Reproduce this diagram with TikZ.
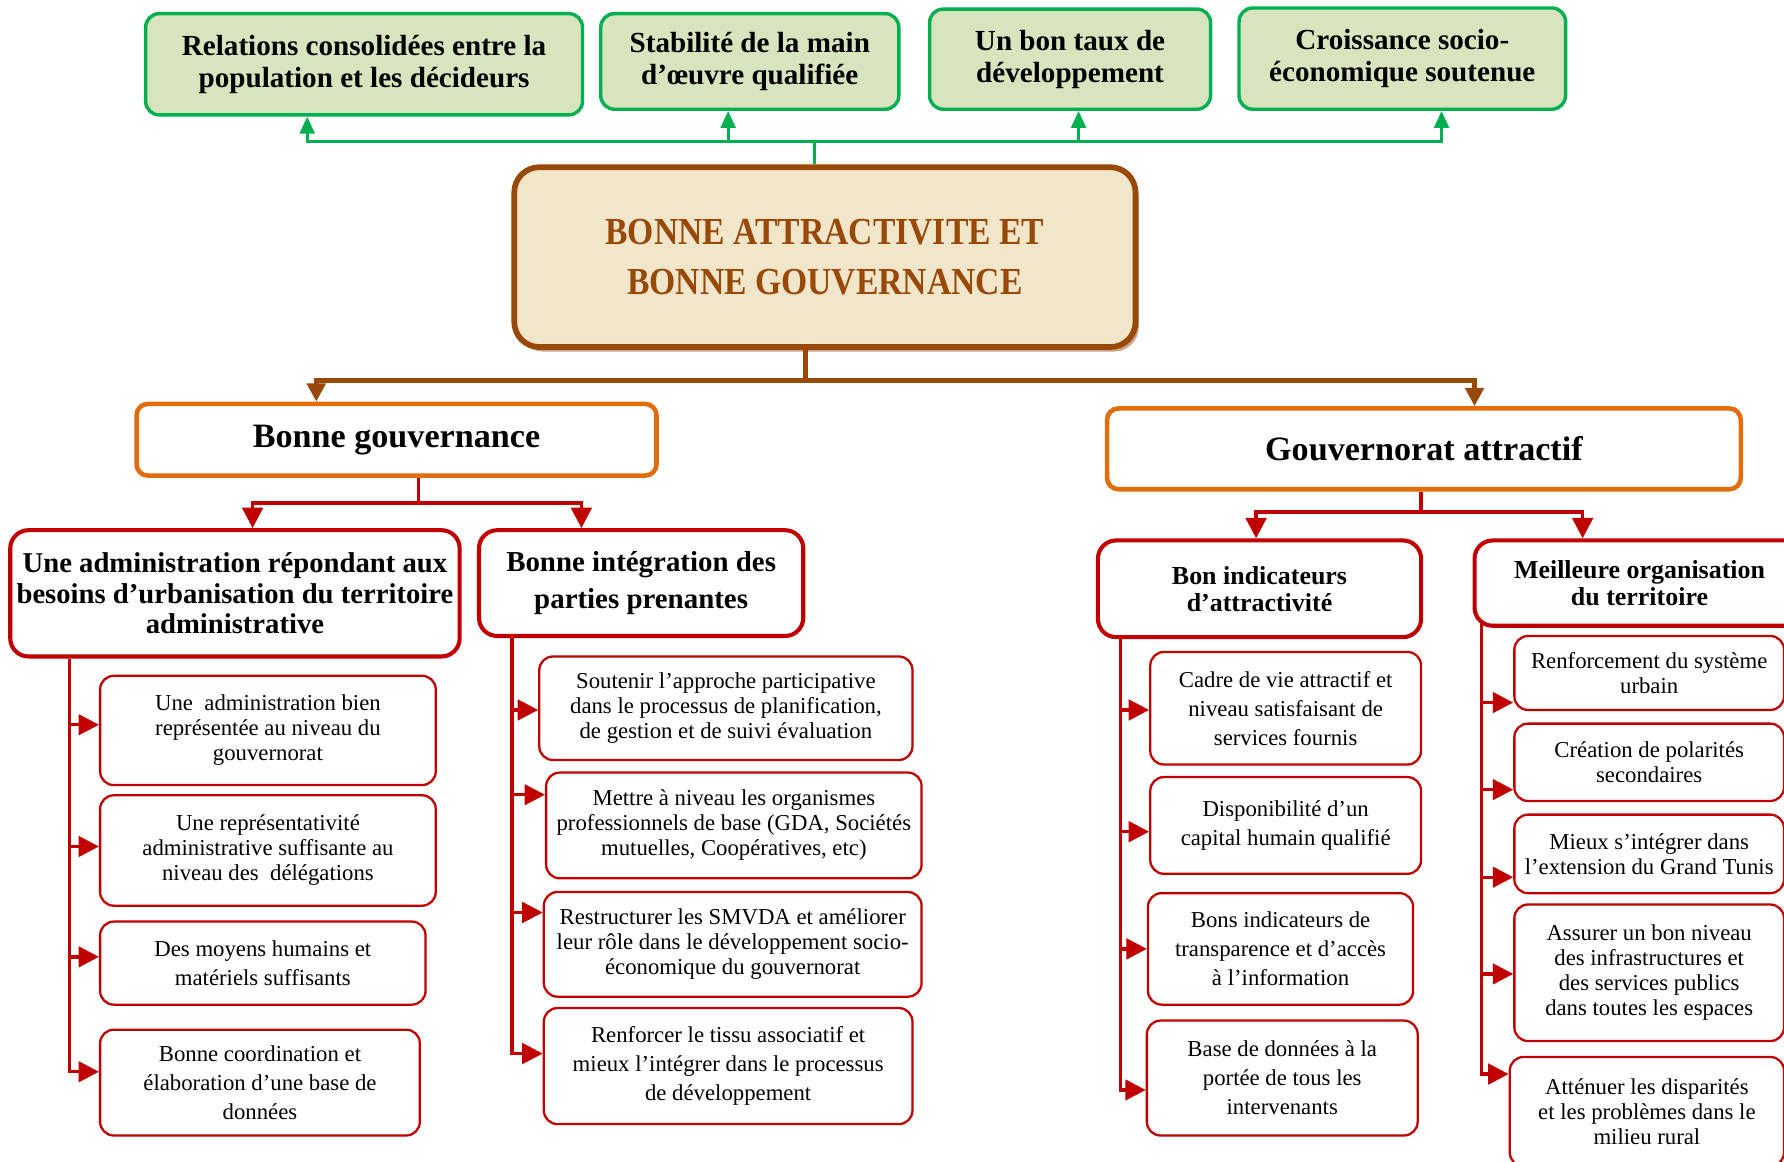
\documentclass[tikz,border=0pt]{standalone}
\usepackage{fontspec}
\setmainfont{Liberation Serif}
\newfontfamily\corefont[FakeStretch=0.88]{Liberation Serif}
\usepackage{tikz}
\usetikzlibrary{arrows.meta,shadows}
\definecolor{gvGreen}{HTML}{00B050}
\definecolor{gvGreenFill}{HTML}{D7E4BD}
\definecolor{gvBrown}{HTML}{984807}
\definecolor{gvParch}{HTML}{F1E5CA}
\definecolor{gvShadow}{HTML}{C9A383}
\definecolor{gvOrange}{HTML}{E36C0A}
\definecolor{gvRed}{HTML}{C00000}
\tikzset{
  gv diagram/.style={line join=miter, inner sep=2pt},
  gv goal/.style={draw=gvGreen, fill=gvGreenFill, line width=1.5pt,
    rounded corners=6pt, align=center, font=\bfseries\fontsize{12.8}{14}\selectfont},
  gv core/.style={draw=gvBrown, fill=gvParch, line width=2.5pt,
    rounded corners=11pt, align=center, text=gvBrown,
    font=\corefont\bfseries\fontsize{16.8}{22}\selectfont,
    drop shadow={shadow xshift=1.5pt, shadow yshift=-2pt, fill=gvShadow, opacity=1}},
  gv axis/.style={draw=gvOrange, fill=white, line width=2pt,
    rounded corners=5pt, font=\bfseries\fontsize{15}{18}\selectfont},
  gv branch/.style={draw=gvRed, fill=white, line width=1.8pt,
    rounded corners=8pt, align=center, font=\bfseries\fontsize{12.6}{13.5}\selectfont},
  gv branch small/.style={gv branch, font=\bfseries\fontsize{11.4}{12}\selectfont},
  gv leaf/.style={draw=gvRed, fill=white, line width=1pt,
    rounded corners=6pt, align=center, font=\fontsize{10}{11}\selectfont},
  gv leaf loose/.style={gv leaf, font=\fontsize{10}{12.75}\selectfont},
  gv goal link/.style={draw=gvGreen, line width=1.3pt},
  gv goal arrow/.style={gv goal link, -{Triangle[length=7.5pt,width=6.5pt]}},
  gv core link/.style={draw=gvBrown, line width=2pt},
  gv core arrow/.style={gv core link, -{Triangle[length=8pt,width=8pt]}},
  gv link/.style={draw=gvRed, line width=1.5pt},
  gv arrow/.style={gv link, -{Triangle[length=9pt,width=9pt]}}
}
\begin{document}
\begin{tikzpicture}[gv diagram,x=0.5pt,y=-0.5pt]
\useasboundingbox (0,0) rectangle (1568,1021);

\node[gv goal, minimum width=192pt, minimum height=44.5pt] (relations) at (320,56.5)
  {Relations consolidées entre la\\population et les décideurs};
\node[gv goal, minimum width=131pt, minimum height=42pt] (stabilite) at (659,54)
  {Stabilité de la main\\d’œuvre qualifiée};
\node[gv goal, minimum width=123.5pt, minimum height=44pt] (taux) at (940.5,52)
  {Un bon taux de\\développement};
\node[gv goal, minimum width=143.5pt, minimum height=44.5pt] (croissance) at (1232.5,51.5)
  {Croissance socio-\\économique soutenue};

\node[gv core, minimum width=273pt, minimum height=79pt] (core) at (725,226)
  {BONNE ATTRACTIVITE ET\\BONNE GOUVERNANCE};

\node[gv axis, minimum width=228.5pt, minimum height=31.5pt] (gouv) at (348.5,386.5) {Bonne gouvernance};
\node[gv axis, minimum width=278.5pt, minimum height=35.5pt] (attr) at (1251.5,394.5) {Gouvernorat attractif};

\node[gv branch, minimum width=197.5pt, minimum height=55.5pt] (admin) at (206.5,521.5)
  {Une administration répondant aux\\besoins d’urbanisation du territoire\\administrative};
\node[gv branch, minimum width=142.5pt, minimum height=46.5pt,
  font=\bfseries\fontsize{12.7}{16}\selectfont] (integ) at (563.5,512.5)
  {Bonne intégration des\\parties prenantes};
\node[gv branch small, minimum width=142pt, minimum height=42.5pt] (indic) at (1107,517.5)
  {Bon indicateurs\\d’attractivité};
\node[gv branch small, minimum width=145pt, minimum height=37.5pt] (organ) at (1441,512.5)
  {Meilleure organisation\\du territoire};

\node[gv leaf, minimum width=147.5pt, minimum height=48pt] (adm1) at (235.5,642)
  {Une\ \ administration bien\\représentée au niveau du\\gouvernorat};
\node[gv leaf, minimum width=147.5pt, minimum height=48.5pt] (adm2) at (235.5,747.5)
  {Une représentativité\\administrative suffisante au\\niveau des\ \ délégations};
\node[gv leaf loose, minimum width=143pt, minimum height=36.5pt] (adm3) at (231,846.5)
  {Des moyens humains et\\matériels suffisants};
\node[gv leaf loose, minimum width=140.5pt, minimum height=46.5pt] (adm4) at (228.5,951.5)
  {Bonne coordination et\\élaboration d’une base de\\données};

\node[gv leaf, minimum width=164pt, minimum height=45.5pt] (int1) at (638,622.5)
  {Soutenir l’approche participative\\dans le processus de planification,\\de gestion et de suivi évaluation};
\node[gv leaf, minimum width=165pt, minimum height=46.5pt] (int2) at (645,725.5)
  {Mettre à niveau les organismes\\professionnels de base (GDA, Sociétés\\mutuelles, Coopératives, etc)};
\node[gv leaf, minimum width=166pt, minimum height=46pt] (int3) at (644,830)
  {Restructurer les SMVDA et améliorer\\leur rôle dans le développement socio-\\économique du gouvernorat};
\node[gv leaf loose, minimum width=162pt, minimum height=51pt] (int4) at (640,937)
  {Renforcer le tissu associatif et\\mieux l’intégrer dans le processus\\de développement};

\node[gv leaf loose, minimum width=119pt, minimum height=49.5pt] (ind1) at (1130,622.5)
  {Cadre de vie attractif et\\niveau satisfaisant de\\services fournis};
\node[gv leaf loose, minimum width=119pt, minimum height=42.5pt] (ind2) at (1130,725.5)
  {Disponibilité d’un\\capital humain qualifié};
\node[gv leaf loose, minimum width=116.5pt, minimum height=49pt] (ind3) at (1125.5,834)
  {Bons indicateurs de\\transparence et d’accès\\à l’information};
\node[gv leaf loose, minimum width=119pt, minimum height=50.5pt] (ind4) at (1127,947.5)
  {Base de données à la\\portée de tous les\\intervenants};

\node[gv leaf, minimum width=118.5pt, minimum height=32.5pt] (org1) at (1449.5,591.5)
  {Renforcement du système\\urbain};
\node[gv leaf, minimum width=118.5pt, minimum height=34pt] (org2) at (1449.5,670)
  {Création de polarités\\secondaires};
\node[gv leaf, minimum width=118.5pt, minimum height=34.5pt] (org3) at (1449.5,750.5)
  {Mieux s’intégrer dans\\l’extension du Grand Tunis};
\node[gv leaf, minimum width=118.5pt, minimum height=60pt] (org4) at (1449.5,855)
  {Assurer un bon niveau\\des infrastructures et\\des services publics\\dans toutes les espaces};
\node[gv leaf, minimum width=120.5pt, minimum height=48pt] (org5) at (1447.5,977)
  {Atténuer les disparités\\et les problèmes dans le\\milieu rural};

\draw[gv goal link] ([shift={(-9,0)}]core.north) -- ++(0,-20) coordinate (gbus);
\draw[gv goal arrow] (gbus) -| ([shift={(-50,0)}]relations.south);
\draw[gv goal arrow] (gbus) -| ([shift={(-19,0)}]stabilite.south);
\draw[gv goal arrow] (gbus) -| ([shift={(7.5,0)}]taux.south);
\draw[gv goal arrow] (gbus) -| ([shift={(34.5,0)}]croissance.south);

\draw[gv core link] ([shift={(-17,0)}]core.south) -- ++(0,27) coordinate (bbus);
\draw[gv core arrow] (bbus) -| ([shift={(-70.5,0)}]gouv.north);
\draw[gv core arrow] (bbus) -| ([shift={(44.5,0)}]attr.north);

\draw[gv link] ([shift={(19.5,0)}]gouv.south) -- ++(0,22) coordinate (rbus1);
\draw[gv arrow] (rbus1) -| ([shift={(15.5,0)}]admin.north);
\draw[gv arrow] (rbus1) -| ([shift={(-52.5,0)}]integ.north);
\draw[gv link] ([shift={(-2.5,0)}]attr.south) -- ++(0,18) coordinate (rbus2);
\draw[gv arrow] (rbus2) -| ([shift={(-3,0)}]indic.north);
\draw[gv arrow] (rbus2) -| ([shift={(-50,0)}]organ.north);

\coordinate (admT) at ([shift={(-145.5,0)}]admin.south);
\coordinate (intT) at ([shift={(-113.5,0)}]integ.south);
\coordinate (indT) at ([shift={(-122,0)}]indic.south);
\coordinate (orgT) at ([shift={(-139,-7)}]organ.south);
\foreach \trunk/\leaf/\dy in {admT/adm1/-5,admT/adm2/-3.5,admT/adm3/-5.5,
    intT/int1/1.5,intT/int2/-27,intT/int3/-28,
    indT/ind1/1.5,indT/ind2/5.5,indT/ind3/0,
    orgT/org1/26,orgT/org2/24,orgT/org3/20.5,orgT/org4/1}{
  \path ([shift={(0,\dy)}]\leaf.west) coordinate (tip);
  \draw[gv arrow] (\trunk |- tip) -- (tip);
}
\draw[gv arrow] (admT) |- ([shift={(0,-9.5)}]adm4.west);
\draw[gv arrow] (intT) |- ([shift={(0,-11)}]int4.west);
\draw[gv arrow] (indT) |- ([shift={(0,10.5)}]ind4.west);
\draw[gv arrow] (orgT) |- ([shift={(0,-33)}]org5.west);
\end{tikzpicture}
\end{document}
